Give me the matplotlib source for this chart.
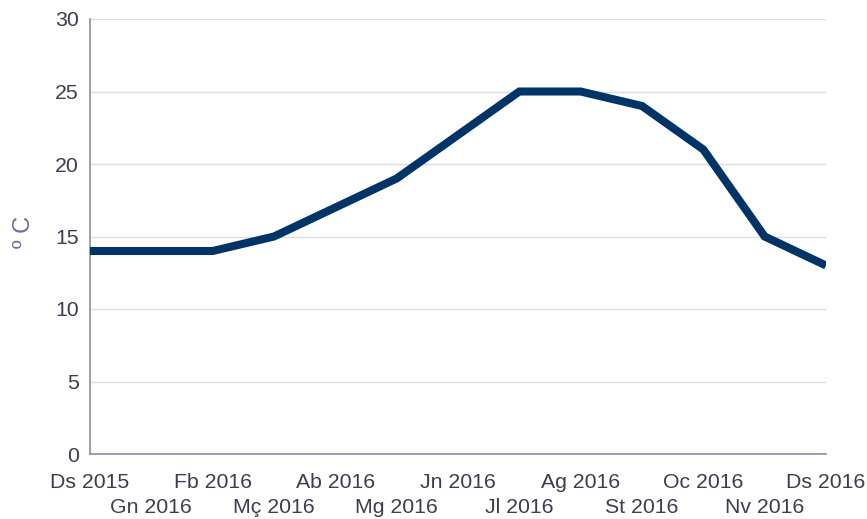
import matplotlib.pyplot as plt

months = ["Ds 2015", "Gn 2016", "Fb 2016", "Mç 2016", "Ab 2016", "Mg 2016", "Jn 2016",
          "Jl 2016", "Ag 2016", "St 2016", "Oc 2016", "Nv 2016", "Ds 2016"]
temps = [14, 14, 14, 15, 17, 19, 22, 25, 25, 24, 21, 15, 13]
yticks = [0, 5, 10, 15, 20, 25, 30]

plt.rcParams['font.family'] = ['Liberation Sans', 'DejaVu Sans']
text_col = '#3d3d52'

fig = plt.figure(figsize=(8.67, 5.19), dpi=100)
ax = fig.add_axes([90 / 867, 65 / 519, 736 / 867, 435 / 519])

x = list(range(len(months)))
ax.plot(x, temps, color='#003366', linewidth=5.8, solid_joinstyle='miter',
        solid_capstyle='butt', zorder=3)

ax.set_xlim(0, len(months) - 1)
ax.set_ylim(0, 30)
ax.set_yticks(yticks)
ax.set_yticklabels([str(v) for v in yticks])
ax.set_xticks(x)
ax.set_xticklabels(months)
ax.tick_params(length=0, labelsize=15.3, colors=text_col)
ax.tick_params(axis='y', pad=8)
# alternate labels on two rows so they don't collide
for i, t in enumerate(ax.xaxis.get_major_ticks()):
    t.set_pad(14 if i % 2 == 0 else 31.5)

ax.grid(axis='y', color='#dcdce4', linewidth=1)
ax.set_axisbelow(True)
for s in ['top', 'right']:
    ax.spines[s].set_visible(False)
for s in ['left', 'bottom']:
    ax.spines[s].set_color('#8c8ca8')
    ax.spines[s].set_linewidth(1.2)

fig.text(24 / 867, 1 - 232 / 519, "º C", rotation=90, ha='center', va='center',
         fontsize=17, color='#6a6a9c')

fig.savefig('out.png', dpi=100)
